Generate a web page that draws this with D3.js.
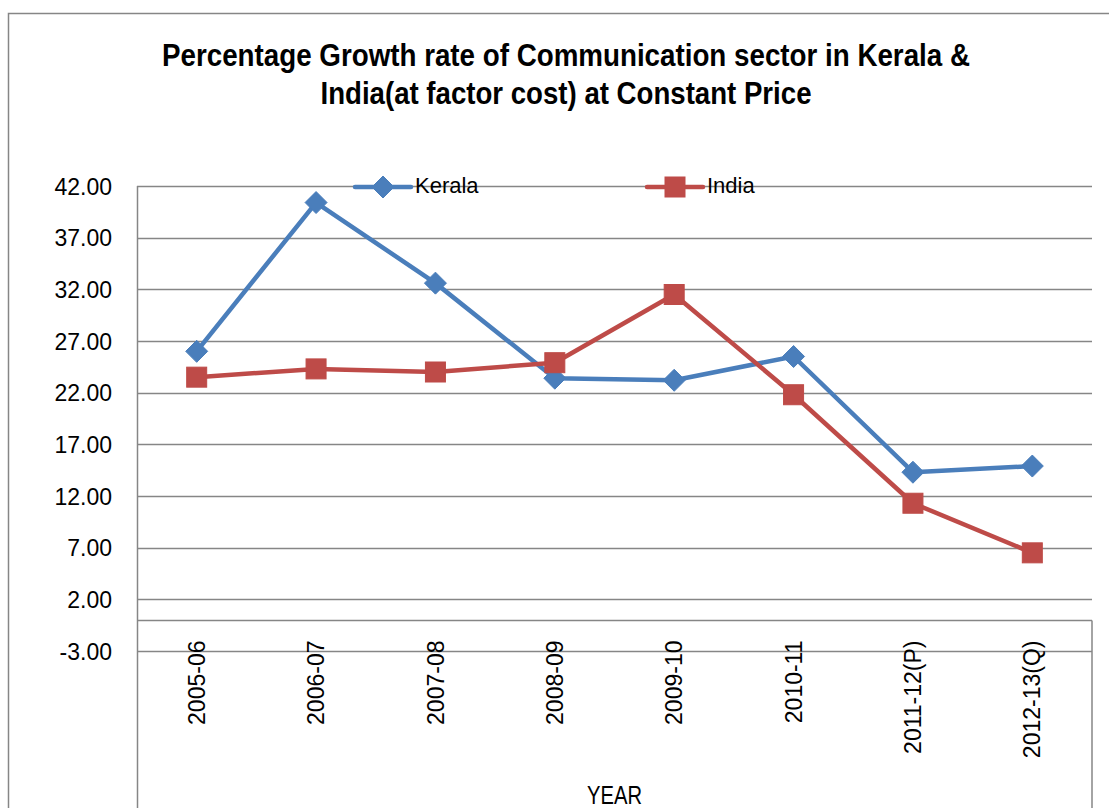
<!DOCTYPE html>
<html>
<head>
<meta charset="utf-8">
<script src="https://cdn.jsdelivr.net/npm/d3@7/dist/d3.min.js"></script>
<style>
  html, body { margin: 0; padding: 0; background: #fff; }
  svg { display: block; }
</style>
</head>
<body>
<svg id="chart" width="1109" height="808"></svg>
<script>
const categories = ["2005-06", "2006-07", "2007-08", "2008-09", "2009-10", "2010-11", "2011-12(P)", "2012-13(Q)"];
const keralaValues = [26.0, 40.4, 32.6, 23.4, 23.2, 25.5, 14.3, 14.9];
const indiaValues = [23.5, 24.3, 24.0, 24.9, 31.5, 21.8, 11.3, 6.5];
const yTicks = [-3, 2, 7, 12, 17, 22, 27, 32, 37, 42];
const seriesNames = ["Kerala", "India"];
const titleLines = ["Percentage Growth rate of Communication sector in Kerala &", "India(at factor cost) at Constant Price"];
const xAxisTitle = "YEAR";

(function () {
const svg = d3.select("#chart");
const W = 1109, H = 808;
const pLeft = 137, pRight = 1092, pTop = 186, pBottom = 651;
const gridColor = "#868686";
const colors = { Kerala: "#4a7ebb", India: "#be4b48" };

// outer chart border (extends beyond the visible frame)
svg.append("rect")
  .attr("x", 8.5).attr("y", 13.5)
  .attr("width", 1130).attr("height", 840)
  .attr("fill", "none").attr("stroke", gridColor).attr("stroke-width", 1.5);

const x = d3.scaleBand().domain(categories).range([pLeft, pRight]);
const y = d3.scaleLinear().domain([-3, 42]).range([pBottom, pTop]);

// gridlines
svg.append("g").selectAll("line").data(yTicks).join("line")
  .attr("x1", pLeft).attr("x2", pRight)
  .attr("y1", d => Math.round(y(d)) + 0.5).attr("y2", d => Math.round(y(d)) + 0.5)
  .attr("stroke", gridColor).attr("stroke-width", 1.5);

// y axis
const fmt = d3.format(".2f");
const yAxis = d3.axisLeft(y).tickValues(yTicks)
  .tickFormat(d => fmt(d).replace("\u2212", "-")).tickSize(0).tickPadding(25);
const yg = svg.append("g").attr("transform", `translate(${pLeft},0)`).call(yAxis);
yg.select(".domain").remove();
yg.selectAll("text")
  .attr("font-family", "'Liberation Sans', Arial, sans-serif")
  .attr("font-size", 23).attr("fill", "#000")
  .attr("dy", "0.35em");

// left axis line extending down
svg.append("line")
  .attr("x1", pLeft + 0.5).attr("x2", pLeft + 0.5)
  .attr("y1", pTop).attr("y2", H + 5)
  .attr("stroke", gridColor).attr("stroke-width", 1.5);

// category axis at zero
const y0 = Math.round(y(0)) + 0.5;
svg.append("line")
  .attr("x1", pLeft).attr("x2", pRight)
  .attr("y1", y0).attr("y2", y0)
  .attr("stroke", gridColor).attr("stroke-width", 1.5);
svg.append("line")
  .attr("x1", pRight).attr("x2", pRight)
  .attr("y1", y0).attr("y2", H + 5)
  .attr("stroke", gridColor).attr("stroke-width", 1.5);

// category labels (rotated)
const xAxis = d3.axisBottom(x).tickSize(0).tickPadding(0);
const xg = svg.append("g").attr("transform", `translate(0,${y0})`).call(xAxis);
xg.select(".domain").remove();
xg.selectAll("text")
  .attr("font-family", "'Liberation Sans', Arial, sans-serif")
  .attr("font-size", 23).attr("fill", "#000")
  .attr("text-anchor", "end")
  .attr("dy", "0.35em")
  .attr("transform", "translate(0,20) rotate(-90)")
  .attr("y", 0).attr("x", 0);

// axis title
svg.append("text")
  .attr("x", (pLeft + pRight) / 2).attr("y", 804)
  .attr("text-anchor", "middle")
  .attr("font-family", "'Liberation Sans', Arial, sans-serif")
  .attr("font-size", 25).attr("fill", "#000")
  .attr("textLength", 55).attr("lengthAdjust", "spacingAndGlyphs")
  .text(xAxisTitle);

// title
const titleWidths = [808, 491];
svg.append("g").selectAll("text").data(titleLines).join("text")
  .attr("x", 566).attr("y", (d, i) => 66 + i * 38)
  .attr("text-anchor", "middle")
  .attr("font-family", "'Liberation Sans', Arial, sans-serif")
  .attr("font-weight", "bold")
  .attr("font-size", 31).attr("fill", "#000")
  .attr("textLength", (d, i) => titleWidths[i]).attr("lengthAdjust", "spacingAndGlyphs")
  .text(d => d);

// series
const cx = d => x(d) + x.bandwidth() / 2;
const series = [
  { name: "Kerala", values: keralaValues, marker: "diamond" },
  { name: "India", values: indiaValues, marker: "square" }
];
const line = d3.line().x(d => cx(d.cat)).y(d => y(d.v));

function drawMarker(g, type, px, py, color) {
  if (type === "diamond") {
    const s = 11;
    g.append("path")
      .attr("d", `M${px},${py - s}L${px + s},${py}L${px},${py + s}L${px - s},${py}Z`)
      .attr("fill", color).attr("stroke", color).attr("stroke-width", 1);
  } else {
    const s = 10;
    g.append("rect")
      .attr("x", px - s).attr("y", py - s).attr("width", 2 * s).attr("height", 2 * s)
      .attr("fill", color).attr("stroke", color).attr("stroke-width", 1);
  }
}

series.forEach(s => {
  const pts = categories.map((c, i) => ({ cat: c, v: s.values[i] }));
  const g = svg.append("g");
  g.append("path").datum(pts)
    .attr("d", line)
    .attr("fill", "none").attr("stroke", colors[s.name])
    .attr("stroke-width", 4.5).attr("stroke-linejoin", "round");
  pts.forEach(p => drawMarker(g, s.marker, cx(p.cat), y(p.v), colors[s.name]));
});

// legend
const legendItems = [
  { name: seriesNames[0], marker: "diamond", x0: 355 },
  { name: seriesNames[1], marker: "square", x0: 647 }
];
legendItems.forEach(it => {
  const g = svg.append("g");
  const ly = 187;
  g.append("line").attr("x1", it.x0).attr("x2", it.x0 + 56)
    .attr("y1", ly).attr("y2", ly)
    .attr("stroke", colors[it.name]).attr("stroke-width", 4.5).attr("stroke-linecap", "round");
  drawMarker(g, it.marker, it.x0 + 28, ly, colors[it.name]);
  g.append("text").attr("x", it.x0 + 60).attr("y", ly + 6)
    .attr("font-family", "'Liberation Sans', Arial, sans-serif")
    .attr("font-size", 22).attr("fill", "#000")
    .text(it.name);
});
})();
</script>
</body>
</html>
